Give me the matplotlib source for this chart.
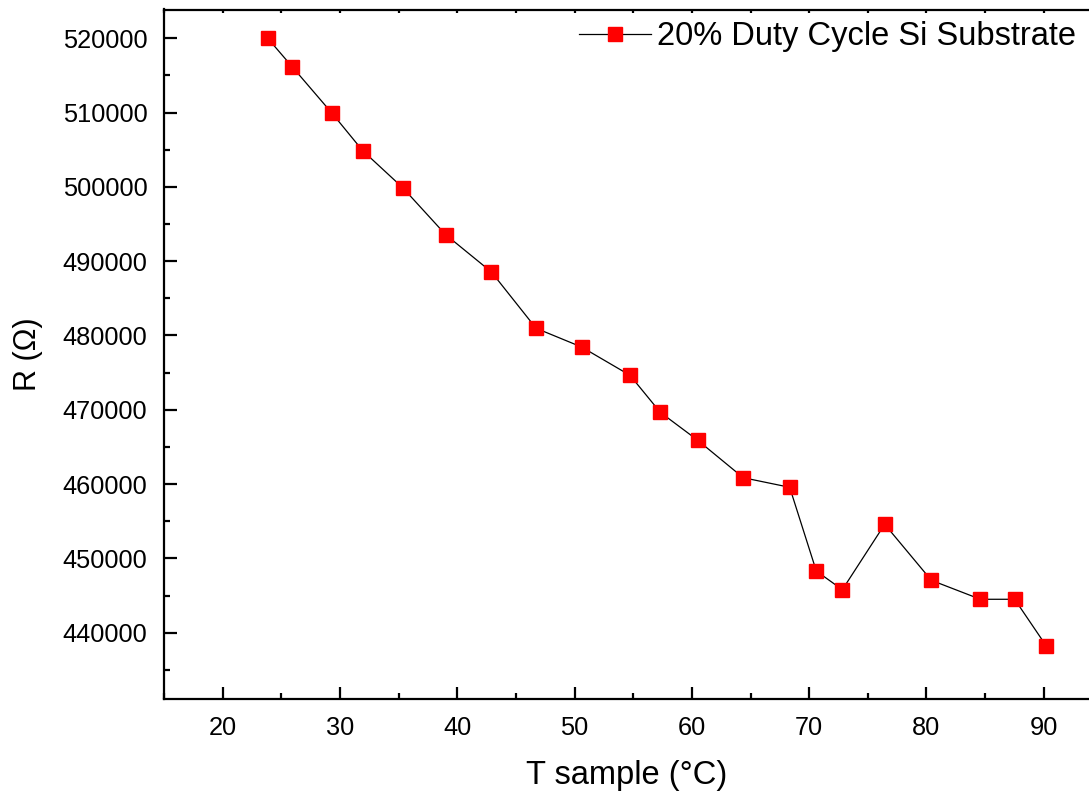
import matplotlib
matplotlib.use("Agg")
import matplotlib.pyplot as plt
from matplotlib.ticker import MultipleLocator

plt.rcParams['font.family'] = ['Liberation Sans', 'DejaVu Sans']

# Data
T_sample = [23.84, 25.92, 29.33, 31.94, 35.35, 39.01, 42.91, 46.72, 50.60, 54.73,
            57.31, 60.50, 64.38, 68.34, 70.61, 72.83, 76.44, 80.42, 84.60, 87.52, 90.22]
R_ohm = [520000, 516180, 509900, 504870, 499890, 493570, 488550, 480970, 478450, 474640,
         469660, 465900, 460860, 459570, 448300, 445790, 454590, 447050, 444500, 444500, 438210]

series_label = "20% Duty Cycle Si Substrate"
x_label = "T sample (°C)"
y_label = "R (Ω)"

W, H = 1089, 798
fig = plt.figure(figsize=(W / 100, H / 100), dpi=100)
left_px, right_px, top_px, bottom_px = 164, 1102.4, 9.5, 699
ax_w = right_px - left_px
ax_h = bottom_px - top_px
ax = fig.add_axes([left_px / W, 1 - bottom_px / H, ax_w / W, ax_h / H])

ax.plot(T_sample, R_ohm, color='black', linewidth=0.9, marker='s', markersize=10.5,
        markerfacecolor='#ff0000', markeredgecolor='#ff0000', label=series_label)

ax.set_xlim(15, 95)
ax.set_ylim(431080, 523870)
ax.xaxis.set_major_locator(MultipleLocator(10))
ax.xaxis.set_minor_locator(MultipleLocator(5))
ax.yaxis.set_major_locator(MultipleLocator(10000))
ax.yaxis.set_minor_locator(MultipleLocator(5000))
ax.ticklabel_format(axis='y', style='plain', useOffset=False)

for s in ax.spines.values():
    s.set_linewidth(1.6)

ax.tick_params(axis='both', which='major', direction='in', length=9, width=1.6,
               labelsize=18.3, pad=12)
ax.tick_params(axis='both', which='minor', direction='in', length=4.5, width=1.6)
ax.tick_params(axis='x', which='both', top=True)

ax.set_xlabel(x_label, fontsize=23.5)
ax.set_ylabel(y_label, fontsize=22)
ax.xaxis.set_label_coords((627 - left_px) / ax_w, -(760 - bottom_px) / ax_h)
ax.xaxis.label.set_va('top')
ax.yaxis.set_label_coords(-(164 - 13) / ax_w, 0.5)
ax.yaxis.label.set_va('top')

leg = ax.legend(loc='upper right', bbox_to_anchor=((1094 - left_px) / ax_w, 1.0 + 6 / ax_h),
                frameon=False, fontsize=23.5, handlelength=2.2, handletextpad=0.2,
                borderaxespad=0.15)

fig.canvas.draw()
for t in ax.xaxis.get_major_ticks() + ax.xaxis.get_minor_ticks():
    t.tick2line.set_markersize(2.5)

fig.savefig("out.png", dpi=100)
